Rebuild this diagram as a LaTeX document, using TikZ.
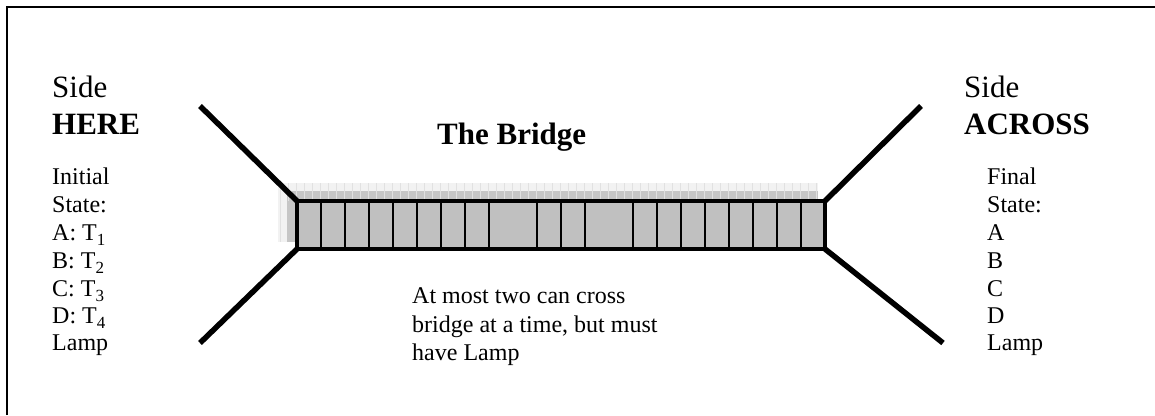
\documentclass[tikz,border=0pt]{standalone}
\usepackage{fontspec}
\setmainfont{Liberation Serif}
\definecolor{bridgegray}{RGB}{192,192,192}
\definecolor{shadelight}{RGB}{242,242,242}
\definecolor{shadegrid}{RGB}{225,225,225}
\definecolor{shadedark}{RGB}{198,198,198}
\newcommand\mysub[1]{\raisebox{-5pt}{\fontsize{17}{17}\selectfont #1}}
\tikzset{
  big/.style={anchor=base west, inner sep=0pt, font=\fontsize{31}{35}\selectfont},
  bigb/.style={big, font=\fontsize{31}{35}\selectfont\bfseries},
  body/.style={anchor=base west, inner sep=0pt, font=\fontsize{24}{28}\selectfont},
  wing/.style={line width=5.5pt, line cap=butt},
}
\begin{document}
\begin{tikzpicture}[x=1pt,y=-1pt]
\useasboundingbox (0,0) rectangle (1155,415);
% frame
\draw[line width=2.2pt] (7,415) -- (7,7) -- (1155,7);
% shadow
\fill[shadelight] (278,183) rectangle (818,242);
\draw[shadegrid, line width=0.6pt] (278,183) grid[step=8] (818,242);
\fill[shadedark] (287,191) rectangle (818,201);
\fill[shadedark] (287,191) rectangle (297,242);
\draw[shadelight!60!shadedark, line width=0.5pt] (287,191) grid[step=8] (818,201);
% bridge
\coordinate (tl) at (297,201);
\coordinate (br) at (825,249);
\coordinate (tr) at (825,201);
\coordinate (bl) at (297,249);
\fill[bridgegray] (tl) rectangle (br);
\foreach \k in {1,...,8,10,11,12,14,15,...,21}{
  \draw[line width=2.2pt] (297+24*\k,201) -- (297+24*\k,249);
}
\draw[line width=4.5pt] (tl) rectangle (br);
% wings
\coordinate (ul) at (200,106);
\coordinate (ll) at (200,343);
\coordinate (ur) at (921,106);
\coordinate (lr) at (943,343);
\draw[wing] (ul) -- (tl);
\draw[wing] (ll) -- (bl);
\draw[wing] (ur) -- (tr);
\draw[wing] (lr) -- (br);
% texts left
\node[big] (sideL) at (52,97) {Side};
\node[bigb] (here) at (52,134) {HERE};
\node[body] (l1) at (52,184) {Initial};
\node[body] (l2) at (52,212) {State:};
\node[body] (l3) at (52,240) {A: T\mysub{1}};
\node[body] (l4) at (52,268) {B: T\mysub{2}};
\node[body] (l5) at (52,296) {C: T\mysub{3}};
\node[body] (l6) at (52,323) {D: T\mysub{4}};
\node[body] (l7) at (52,350) {Lamp};
% texts right
\node[big] (sideR) at (964,97) {Side};
\node[bigb] (across) at (964,134) {ACROSS};
\node[body] (r1) at (987,184) {Final};
\node[body] (r2) at (987,212) {State:};
\node[body] (r3) at (987,240) {A};
\node[body] (r4) at (987,268) {B};
\node[body] (r5) at (987,296) {C};
\node[body] (r6) at (987,323) {D};
\node[body] (r7) at (987,350) {Lamp};
% center
\node[bigb] (title) at (437,144) {The Bridge};
\node[body] (c1) at (412,303) {At most two can cross};
\node[body] (c2) at (412,332) {bridge at a time, but must};
\node[body] (c3) at (412,360) {have Lamp};
\end{tikzpicture}
\end{document}
